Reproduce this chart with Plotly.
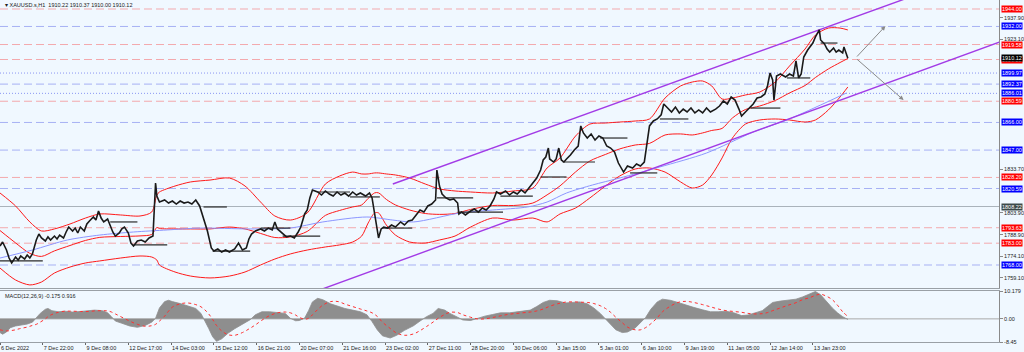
import plotly.graph_objects as go

# ---------------- data ----------------
TITLE = "\u25be XAUUSD.s,H1  1910.22 1910.37 1910.00 1910.12"
MACD_TITLE = "MACD(12,26,9) -0.175 0.916"

time_label_bars = [0, 33, 66, 99, 132, 165, 198, 231, 264, 297, 330, 363, 396, 429, 462, 495, 528, 561, 594, 627]
time_labels = ["6 Dec 2022", "7 Dec 22:00", "9 Dec 08:00", "12 Dec 17:00", "14 Dec 03:00", "15 Dec 12:00",
               "16 Dec 21:00", "20 Dec 07:00", "21 Dec 16:00", "23 Dec 02:00", "27 Dec 11:00", "28 Dec 20:00",
               "30 Dec 06:00", "3 Jan 15:00", "5 Jan 01:00", "6 Jan 10:00", "9 Jan 19:00", "11 Jan 05:00",
               "12 Jan 14:00", "13 Jan 23:00"]

price_ticks = [1937.90, 1923.10, 1833.70, 1803.90, 1788.90, 1774.10, 1759.10]
macd_ticks = [10.179, 0.0, -8.45]
macd_tick_text = ["10.179", "0.00", "-8.45"]

price_bars = [0, 2, 5, 7, 9, 12, 14, 16, 19, 21,
              23, 25, 28, 30, 32, 35, 37, 39, 42, 44,
              46, 49, 51, 53, 56, 58, 60, 62, 65, 67,
              69, 72, 74, 76, 78, 80, 83, 85, 87, 89,
              92, 94, 96, 99, 101, 103, 106, 109, 112, 115,
              118, 120, 121, 123, 127, 130, 133, 136, 139, 142,
              145, 148, 151, 154, 156, 158, 160, 163, 165, 168,
              171, 174, 177, 181, 184, 187, 190, 192, 194, 197,
              201, 204, 207, 210, 212, 214, 218, 221, 224, 227,
              230, 232, 235, 237, 239, 241, 245, 248, 251, 254,
              257, 260, 263, 266, 269, 272, 275, 278, 282, 285,
              287, 289, 290, 292, 294, 296, 299, 302, 305, 309,
              312, 315, 318, 321, 324, 327, 330, 333, 336, 337,
              339, 341, 344, 347, 350, 353, 354, 356, 359, 363,
              366, 369, 372, 375, 378, 381, 383, 386, 390, 393,
              396, 399, 402, 405, 408, 411, 414, 417, 419, 421,
              423, 424, 427, 429, 431, 433, 435, 437, 440, 443,
              446, 448, 450, 453, 456, 459, 462, 465, 468, 471,
              474, 477, 479, 481, 484, 488, 491, 494, 497, 499,
              501, 504, 507, 510, 512, 515, 518, 521, 524, 527,
              530, 533, 536, 539, 542, 545, 548, 552, 555, 558,
              561, 564, 567, 570, 572, 575, 578, 581, 584, 587,
              590, 592, 594, 596, 597, 599, 602, 606, 609, 612,
              614, 616, 618, 620, 623, 625, 627, 629, 632, 633,
              636, 638, 640, 643, 645, 647, 650, 651, 653, 654]
price_close = [1781.1, 1783.8, 1778.3, 1772.8, 1769.4, 1773.5, 1771.4, 1774.2, 1772.1, 1774.9,
               1772.8, 1775.6, 1785.2, 1789.3, 1786.6, 1784.5, 1787.3, 1785.2, 1787.9, 1785.9,
               1788.6, 1786.6, 1790.7, 1794.1, 1791.4, 1793.4, 1790.0, 1794.1, 1791.4, 1796.2,
               1798.3, 1801.0, 1798.9, 1805.1, 1800.3, 1797.6, 1799.6, 1794.8, 1790.7, 1787.9,
               1790.0, 1792.8, 1794.1, 1790.0, 1783.1, 1781.1, 1784.5, 1785.2, 1783.8, 1786.6,
               1787.9, 1824.4, 1815.4, 1811.3, 1812.7, 1810.6, 1812.0, 1809.9, 1812.0, 1810.6,
               1811.3, 1809.9, 1812.7, 1808.6, 1803.1, 1797.6, 1791.4, 1779.7, 1777.6, 1779.0,
               1776.9, 1778.3, 1776.9, 1779.0, 1783.1, 1778.3, 1779.7, 1785.9, 1789.3, 1791.4,
               1792.8, 1791.4, 1793.4, 1792.1, 1797.6, 1792.8, 1790.0, 1787.3, 1787.9, 1786.6,
               1790.7, 1794.1, 1803.1, 1805.8, 1814.1, 1819.6, 1818.2, 1816.1, 1818.9, 1816.8,
               1815.4, 1818.2, 1816.1, 1817.5, 1815.4, 1818.2, 1816.1, 1817.5, 1815.4, 1817.5,
               1814.1, 1803.1, 1797.6, 1786.6, 1792.8, 1794.1, 1793.4, 1795.5, 1794.1, 1797.6,
               1795.5, 1798.3, 1798.9, 1802.4, 1805.8, 1804.4, 1808.6, 1809.9, 1812.7, 1833.3,
               1822.3, 1816.8, 1814.1, 1812.7, 1813.4, 1810.6, 1803.1, 1804.4, 1802.4, 1805.1,
               1806.5, 1804.4, 1807.2, 1805.8, 1808.6, 1813.4, 1818.2, 1816.8, 1818.9, 1816.1,
               1818.2, 1816.8, 1819.6, 1817.5, 1820.9, 1823.7, 1827.8, 1833.3, 1840.2, 1842.2,
               1848.4, 1840.9, 1838.8, 1840.9, 1848.4, 1840.2, 1838.8, 1840.9, 1843.6, 1847.1,
               1849.8, 1863.6, 1858.8, 1855.3, 1858.1, 1853.9, 1856.7, 1855.3, 1849.8, 1848.4,
               1845.7, 1838.1, 1835.4, 1831.9, 1836.1, 1834.7, 1837.4, 1836.1, 1838.8, 1850.5,
               1863.6, 1867.0, 1868.4, 1871.2, 1878.7, 1875.9, 1873.2, 1876.6, 1872.5, 1875.2,
               1873.2, 1875.9, 1872.5, 1874.6, 1872.5, 1875.9, 1873.2, 1875.2, 1877.3, 1880.8,
               1878.7, 1883.5, 1881.4, 1875.2, 1870.4, 1873.2, 1875.9, 1878.7, 1882.8, 1883.5,
               1885.6, 1891.1, 1900.0, 1895.2, 1881.4, 1897.9, 1899.3, 1897.3, 1899.3, 1897.9,
               1908.3, 1896.6, 1899.3, 1911.0, 1915.8, 1918.6, 1920.6, 1924.8, 1929.6, 1922.7,
               1920.0, 1916.5, 1914.4, 1917.2, 1914.4, 1915.8, 1913.8, 1917.9, 1913.1, 1910.12]

band_bars = [0, 12, 23, 32, 42, 54, 66, 77, 93, 108,
             117, 121, 123, 135, 147, 162, 177, 189, 201, 212,
             224, 237, 251, 262, 272, 279, 284, 289, 292, 298,
             305, 316, 328, 339, 351, 363, 380, 396, 411, 422,
             432, 444, 455, 467, 478, 490, 501, 513, 525, 534,
             542, 549, 557, 565, 575, 586, 598, 609, 621, 629,
             639, 648, 654]
band_upper = [1817.5, 1808.6, 1797.6, 1791.4, 1792.8, 1796.2, 1800.3, 1803.1, 1802.4, 1801.7,
              1804.4, 1816.1, 1818.2, 1822.3, 1825.1, 1826.4, 1827.8, 1822.3, 1811.3, 1801.7,
              1798.9, 1803.8, 1823.7, 1829.2, 1831.9, 1830.6, 1830.6, 1831.3, 1831.3, 1830.6,
              1829.9, 1827.8, 1823.7, 1820.3, 1818.9, 1818.2, 1817.5, 1818.9, 1820.9, 1834.7,
              1841.6, 1856.7, 1864.9, 1865.6, 1866.3, 1867.0, 1868.4, 1882.8, 1891.1, 1893.8,
              1894.5, 1891.1, 1882.1, 1882.8, 1884.9, 1886.9, 1893.8, 1904.8, 1916.5, 1926.1,
              1930.9, 1930.9, 1929.6]
band_middle = [1791.7, 1783.2, 1776.0, 1773.9, 1777.7, 1781.4, 1784.9, 1787.0, 1787.6, 1788.0,
               1789.0, 1793.8, 1793.1, 1792.8, 1792.8, 1792.8, 1794.1, 1792.8, 1789.7, 1786.9,
               1787.3, 1791.1, 1802.1, 1805.5, 1807.9, 1809.3, 1813.8, 1817.6, 1817.6, 1813.1,
               1809.3, 1805.8, 1803.4, 1802.8, 1803.4, 1806.2, 1808.9, 1808.9, 1810.6, 1816.2,
               1822.4, 1832.0, 1839.5, 1844.0, 1847.8, 1850.5, 1851.6, 1857.4, 1858.1, 1857.4,
               1858.8, 1860.5, 1861.9, 1869.1, 1874.9, 1877.3, 1881.1, 1886.3, 1891.4, 1896.9,
               1902.8, 1907.2, 1910.0]
band_lower = [1765.9, 1757.7, 1754.3, 1756.3, 1762.5, 1766.6, 1769.4, 1770.8, 1772.8, 1774.2,
              1773.5, 1771.4, 1768.0, 1763.2, 1760.4, 1759.1, 1760.4, 1763.2, 1768.0, 1772.1,
              1775.6, 1778.3, 1780.4, 1781.8, 1783.8, 1787.9, 1796.9, 1803.8, 1803.8, 1795.5,
              1788.6, 1783.8, 1783.1, 1785.2, 1787.9, 1794.1, 1800.3, 1798.9, 1800.3, 1797.6,
              1803.1, 1807.2, 1814.1, 1822.3, 1829.2, 1834.0, 1834.7, 1831.9, 1825.1, 1820.9,
              1823.0, 1829.9, 1841.6, 1855.3, 1864.9, 1867.7, 1868.4, 1867.7, 1866.3, 1867.7,
              1874.6, 1883.5, 1890.4]

ma_bars = [0, 25, 52, 77, 103, 129, 154, 193, 224, 249, 283, 303, 319, 355, 380, 407, 422, 437, 457, 478,
           509, 545, 581, 607, 633, 653]
ma_values = [1772.8, 1778.3, 1785.2, 1788.6, 1790.7, 1792.1, 1793.4, 1792.8, 1793.4, 1797.6, 1801.0, 1798.9,
             1797.6, 1803.8, 1805.8, 1807.9, 1811.3, 1817.5, 1823.0, 1827.8, 1835.4, 1845.0, 1859.4, 1867.7,
             1878.0, 1886.3]

macd_bars = [0, 2, 5, 8, 12, 15, 21, 25, 28, 31,
             35, 37, 40, 45, 50, 56, 62, 68, 73, 79,
             83, 86, 89, 94, 100, 106, 112, 117, 120, 123,
             127, 130, 133, 139, 145, 151, 155, 158, 161, 164,
             167, 171, 176, 181, 187, 193, 197, 202, 208, 214,
             220, 224, 228, 231, 235, 238, 241, 245, 249, 255,
             261, 266, 272, 278, 283, 287, 291, 295, 301, 306,
             312, 319, 324, 329, 334, 338, 343, 347, 353, 357,
             363, 368, 374, 380, 386, 393, 401, 409, 414, 419,
             424, 430, 436, 442, 447, 453, 458, 463, 467, 471,
             475, 480, 484, 490, 494, 498, 502, 507, 511, 517,
             523, 529, 535, 542, 548, 554, 560, 566, 572, 577,
             582, 588, 592, 596, 602, 608, 614, 619, 625, 629,
             633, 637, 642, 646, 650, 654]
macd_main = [-5.0, -5.6, -4.8, -3.2, -2.6, -2.3, -1.9, -1.2, 0.3, 2.0,
             3.5, 3.8, 3.0, 2.6, 2.8, 2.5, 2.7, 2.9, 3.2, 3.0,
             2.2, 0.8, -0.8, -1.6, -2.6, -3.1, -2.4, -1.2, 0.2, 4.0,
             6.3, 6.8, 6.3, 5.6, 4.7, 3.8, 2.0, -0.5, -3.5, -6.5,
             -8.2, -7.3, -5.2, -3.6, -2.0, -0.3, 1.5, 2.6, 2.6, 2.4,
             2.0, 0.2, -0.7, -0.6, 0.3, 3.0, 6.2, 7.5, 7.0, 5.5,
             4.5, 3.8, 3.2, 2.6, 1.5, -1.0, -4.0, -6.2, -7.0, -6.0,
             -4.2, -2.5, -0.8, 0.8, 2.0, 3.8, 3.2, 2.0, 0.6, -0.4,
             -0.6, 0.2, 1.0, 1.6, 2.2, 2.2, 2.6, 3.2, 4.5, 6.0,
             6.8, 6.6, 5.8, 6.0, 6.2, 5.5, 4.0, 2.0, 0.0, -2.2,
             -4.0, -5.0, -4.8, -3.3, -1.5, 0.5, 3.5, 6.2, 7.2, 6.8,
             6.0, 5.0, 4.2, 3.3, 2.6, 2.6, 2.8, 2.2, 1.2, 1.4,
             2.0, 3.0, 4.5, 6.0, 6.5, 6.8, 7.2, 8.0, 9.2, 10.0,
             8.8, 6.5, 4.0, 2.2, 0.8, -0.2]
macd_signal = [-4.0, -4.2, -4.4, -4.3, -4.0, -3.6, -3.0, -2.4, -2.0, -1.2,
               0.0, 0.8, 1.6, 2.4, 2.8, 2.8, 2.7, 2.7, 2.9, 3.0,
               2.9, 2.5, 1.8, 0.6, -0.8, -2.0, -2.7, -2.5, -2.0, -0.8,
               1.0, 2.8, 4.3, 5.5, 5.8, 5.2, 4.4, 3.3, 1.8, -0.2,
               -2.4, -4.4, -5.8, -6.0, -5.0, -3.4, -2.2, -0.5, 1.2, 2.2,
               2.5, 2.2, 1.4, 0.5, -0.1, 0.2, 1.5, 3.4, 5.0, 6.3,
               6.3, 5.4, 4.5, 3.6, 2.9, 2.2, 0.9, -1.2, -3.5, -5.2,
               -6.0, -5.5, -4.3, -2.8, -1.2, 0.2, 1.6, 2.4, 2.3, 1.5,
               0.6, 0.0, 0.0, 0.5, 1.1, 1.7, 2.1, 2.5, 2.9, 3.6,
               4.6, 5.5, 6.1, 6.2, 6.1, 6.0, 5.6, 4.8, 3.8, 2.4,
               0.6, -1.4, -3.0, -4.0, -4.0, -3.2, -1.8, 0.4, 2.6, 4.6,
               6.0, 6.4, 6.0, 5.2, 4.4, 3.6, 3.0, 2.7, 2.4, 2.0,
               1.8, 1.9, 2.3, 3.0, 4.0, 5.0, 5.9, 7.0, 7.8, 8.6,
               9.0, 8.4, 7.0, 5.0, 2.6, 0.9]

# support / resistance segments
seg_start = [0, 85, 103, 157, 164, 201, 218, 245, 270, 295, 337, 353, 386, 417, 434, 463, 486, 509, 579, 607, 633]
seg_end = [33, 106, 129, 175, 193, 224, 247, 270, 293, 318, 365, 388, 411, 437, 459, 484, 507, 531, 602, 625, 646]
seg_price = [1770.8, 1797.6, 1781.8, 1807.9, 1777.6, 1793.4, 1787.9, 1818.2, 1814.8, 1793.4, 1814.1, 1804.4,
             1815.4, 1828.5, 1838.8, 1855.3, 1831.3, 1868.4, 1875.9, 1896.6, 1920.6]

# trend channel lines
chan_upper_bars = [303, 720]
chan_upper_price = [1823.7, 1958.0]
chan_lower_bars = [244, 771]
chan_lower_price = [1750.0, 1921.2]

# projection arrows
arrow_from = (660, 1910.3)
arrow_to_bars = [683, 697]
arrow_to_price = [1932.3, 1881.4]

# horizontal levels
red_levels = [1944.00, 1919.58, 1909.28, 1880.59, 1828.20, 1793.63, 1783.00]
blue_levels = [1932.00, 1892.37, 1866.00, 1847.00, 1820.59, 1768.00]
blue_dot_levels = [1899.97, 1886.01]
gray_levels = [1808.22]
current_price = 1910.12

# ---------------- styling ----------------
BG = "#f0f8ff"
FONT = "Liberation Sans"
FS = 5.5
W, H = 1024, 352
PLOT_R = 999           # right edge of plot area (px)
PRICE_BOTTOM = 288     # px
MACD_TOP = 291
MACD_BOTTOM = 342
X_RANGE = [0, 770.6]
Y_RANGE = [1752.19, 1950.19]
MACD_RANGE = [-8.45, 10.179]

plot_h = MACD_BOTTOM
dom_price = [1 - PRICE_BOTTOM / plot_h, 1]
dom_macd = [0, (MACD_BOTTOM - MACD_TOP) / plot_h]

fig = go.Figure()

common = dict(hoverinfo="skip", showlegend=False)

# Bollinger bands
for vals in (band_upper, band_middle, band_lower):
    fig.add_trace(go.Scatter(x=band_bars, y=vals, mode="lines",
                             line=dict(color="#ff1a1a", width=1, shape="spline", smoothing=0.8),
                             xaxis="x", yaxis="y", **common))
# slow moving average
fig.add_trace(go.Scatter(x=ma_bars, y=ma_values, mode="lines",
                         line=dict(color="#8c96ff", width=1, shape="spline", smoothing=0.8),
                         xaxis="x", yaxis="y", **common))
# channel lines
for bx, py in ((chan_upper_bars, chan_upper_price), (chan_lower_bars, chan_lower_price)):
    fig.add_trace(go.Scatter(x=bx, y=py, mode="lines", line=dict(color="#a23be6", width=1.4),
                             xaxis="x", yaxis="y", **common))
# support / resistance segments
sx, sy = [], []
for a, b, p in zip(seg_start, seg_end, seg_price):
    sx += [a, b, None]
    sy += [p, p, None]
fig.add_trace(go.Scatter(x=sx, y=sy, mode="lines", line=dict(color="#2b2b2b", width=1.2),
                         xaxis="x", yaxis="y", **common))
# price
fig.add_trace(go.Scatter(x=price_bars, y=price_close, mode="lines",
                         line=dict(color="#1a1a1a", width=1.6),
                         xaxis="x", yaxis="y", **common))

# MACD
fig.add_trace(go.Scatter(x=macd_bars, y=macd_main, mode="lines", fill="tozeroy",
                         fillcolor="#8e8e8e", line=dict(color="#8e8e8e", width=0.8),
                         xaxis="x2", yaxis="y2", **common))
fig.add_trace(go.Scatter(x=macd_bars, y=macd_signal, mode="lines",
                         line=dict(color="#ff3030", width=1, dash="dot", shape="spline"),
                         xaxis="x2", yaxis="y2", **common))

shapes = []
def hline(y, color, dash):
    shapes.append(dict(type="line", xref="x domain", x0=0, x1=1, yref="y", y0=y, y1=y,
                       line=dict(color=color, width=1, dash=dash), layer="below"))
for v in red_levels:
    hline(v, "#f3a9ad", "8px,4px")
for v in blue_levels:
    hline(v, "#a7b1f4", "8px,4px")
for v in blue_dot_levels:
    hline(v, "#8a96f2", "1px,2px")
for v in gray_levels:
    hline(v, "#aab3bb", "solid")
# MACD zero line
shapes.append(dict(type="line", xref="x2 domain", x0=0, x1=1, yref="y2", y0=0, y1=0,
                   line=dict(color="#a9a9a9", width=1), layer="below"))

annotations = []
def price_box(v, bg, fg):
    annotations.append(dict(xref="paper", x=1.002, xanchor="left", yref="y", y=v, yanchor="middle",
                            text=f"{v:.2f}", showarrow=False, bgcolor=bg, borderpad=0,
                            font=dict(family=FONT, size=FS, color=fg)))
for v in red_levels:
    price_box(v, "#ff0000", "#ffffff")
for v in blue_levels + blue_dot_levels:
    price_box(v, "#0000ff", "#ffffff")
for v in gray_levels:
    price_box(v, "#3c4a4a", "#ffffff")
price_box(current_price, "#000000", "#ffffff")

annotations.append(dict(xref="paper", x=0.003, xanchor="left", yref="paper", y=1, yanchor="top",
                        text=TITLE, showarrow=False, font=dict(family=FONT, size=FS, color="#222")))
annotations.append(dict(xref="paper", x=0.003, xanchor="left", yref="y2 domain", y=1, yanchor="top",
                        text=MACD_TITLE, showarrow=False, font=dict(family=FONT, size=FS, color="#222")))
for bx, py in zip(arrow_to_bars, arrow_to_price):
    annotations.append(dict(x=bx, y=py, xref="x", yref="y", ax=arrow_from[0], ay=arrow_from[1],
                            axref="x", ayref="y", showarrow=True, arrowhead=2, arrowsize=0.9,
                            arrowwidth=1, arrowcolor="#8a8a8a", text=""))

fig.update_layout(
    width=W, height=H,
    margin=dict(l=0, r=W - PLOT_R, t=0, b=H - MACD_BOTTOM, autoexpand=False),
    paper_bgcolor=BG, plot_bgcolor=BG,
    font=dict(family=FONT, size=FS, color="#222"),
    shapes=shapes, annotations=annotations,
    xaxis=dict(domain=[0, 1], range=X_RANGE, anchor="y", showticklabels=False, showgrid=False,
               zeroline=False, showline=True, linecolor="#9aa0a6", linewidth=1, ticks="",
               automargin=False),
    yaxis=dict(domain=dom_price, range=Y_RANGE, side="right", anchor="x", showgrid=False, zeroline=False,
               showline=True, linecolor="#8a8a8a", linewidth=1, ticks="outside", ticklen=3,
               tickcolor="#8a8a8a", tickvals=price_ticks, ticktext=[f"{v:.2f}" for v in price_ticks],
               tickfont=dict(family=FONT, size=FS, color="#222"), automargin=False),
    xaxis2=dict(domain=[0, 1], range=X_RANGE, anchor="y2", showgrid=False, zeroline=False,
                showline=True, mirror=True, linecolor="#9aa0a6", linewidth=1,
                tickvals=time_label_bars, ticktext=time_labels, ticks="outside", ticklen=2,
                tickcolor="#666", ticklabelposition="outside right", tickangle=0,
                tickfont=dict(family=FONT, size=FS, color="#222"), automargin=False),
    yaxis2=dict(domain=dom_macd, range=MACD_RANGE, side="right", anchor="x2", showgrid=False,
                zeroline=False, showline=True, linecolor="#8a8a8a", linewidth=1, ticks="outside",
                ticklen=3, tickcolor="#8a8a8a", tickvals=macd_ticks, ticktext=macd_tick_text,
                tickfont=dict(family=FONT, size=FS, color="#222"), automargin=False),
)

fig.write_html("out.html")
